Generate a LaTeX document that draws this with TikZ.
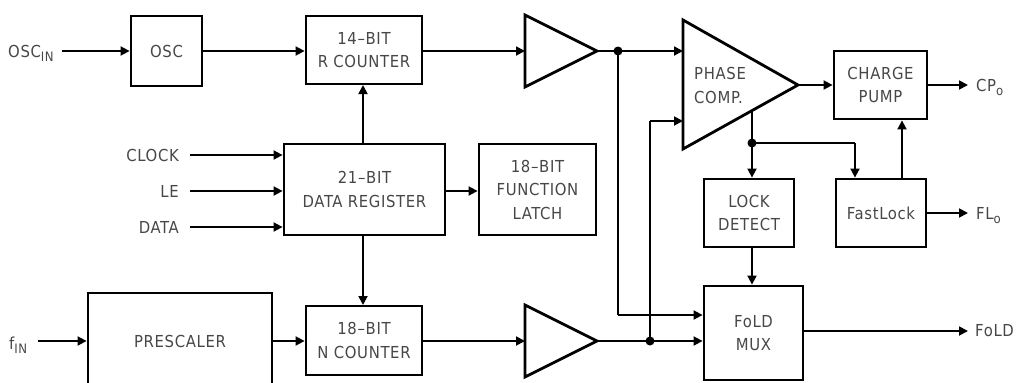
\documentclass[tikz,border=0pt]{standalone}
\usepackage{fontspec}
\setmainfont[LetterSpace=4]{DejaVu Sans Condensed}
\usetikzlibrary{arrows.meta}
\newcommand{\lowsub}[1]{\raisebox{-0.5ex}{\fontsize{13}{13}\selectfont #1}}
\begin{document}
\begin{tikzpicture}[x=1pt,y=-1pt,
  box/.style={draw, line width=2.8pt, inner sep=0pt, align=center,
    font=\fontsize{16.5}{23.5}\selectfont, text=black!72},
  wire/.style={line width=1.8pt},
  arr/.style={wire, -{Triangle[length=9pt,width=9pt]}},
  tri/.style={line width=2.8pt, line join=miter},
  lbl/.style={font=\fontsize{16.5}{17}\selectfont, text=black!72, inner sep=0pt},
  jdot/.style={circle, fill, inner sep=0pt, minimum size=9pt}]
\useasboundingbox (0,0) rectangle (1018,383);
\clip (0,0) rectangle (1018,383);

% boxes
\node[box, minimum width=71pt, minimum height=70pt] (osc) at (166.5,51) {OSC};
\node[box, minimum width=116pt, minimum height=68pt] (rcnt) at (364,50) {14–BIT\\R COUNTER};
\node[box, minimum width=161pt, minimum height=91pt] (dreg) at (364.5,189.5) {21–BIT\\DATA REGISTER};
\node[box, minimum width=117pt, minimum height=91pt] (flatch) at (537.5,189.5) {18–BIT\\FUNCTION\\LATCH};
\node[box, minimum width=116pt, minimum height=69pt] (ncnt) at (364,340.5) {18–BIT\\N COUNTER};
\node[box, minimum width=184pt, minimum height=130pt] (pres) at (180,358) {};
\node[lbl] (prestext) at (180,341) {PRESCALER};
\node[box, minimum width=93pt, minimum height=68pt] (cpump) at (880.5,85) {CHARGE\\PUMP};
\node[box, minimum width=90pt, minimum height=68pt] (lock) at (749,213) {LOCK\\DETECT};
\node[box, minimum width=90pt, minimum height=68pt] (fast) at (881,213) {FastLock};
\node[box, minimum width=99pt, minimum height=94pt] (mux) at (753.5,333) {FoLD\\MUX};

% buffers and phase comparator
\draw[tri] (525,15) -- (525,87) -- (597,51) -- cycle;
\coordinate (b1in) at (525,51);
\coordinate (b1out) at (597,51);
\draw[tri] (525,305) -- (525,377) -- (597,341) -- cycle;
\coordinate (b2in) at (525,341);
\coordinate (b2out) at (597,341);
\draw[tri] (683,20) -- (683,149) -- (798,85) -- cycle;
\coordinate (pcin1) at (683,51);
\coordinate (pcin2) at (683,121);
\coordinate (pcout) at (798,85);
\coordinate (pcbot) at (752,111);
\node[lbl, anchor=west, align=left, font=\fontsize{16.5}{24}\selectfont] (pctext) at (694,85) {PHASE\\COMP.};

% junctions
\node[jdot] (j1) at (618,51) {};
\node[jdot] (j2) at (650,341) {};
\node[jdot] (j3) at (752,143) {};
\coordinate (c1) at (618,315);
\coordinate (c2) at (650,121);
\coordinate (c3) at (855,143);

% input labels
\node[lbl, anchor=base west] (oscin) at (8,57) {OSC\lowsub{IN}};
\node[lbl, anchor=base west] (fin) at (9,349) {f\lowsub{IN}};
\node[lbl, anchor=east] (clk) at (179,155) {CLOCK};
\node[lbl, anchor=east] (le) at (179,191) {LE};
\node[lbl, anchor=east] (data) at (179,227) {DATA};
\node[lbl, anchor=base west] (cpo) at (976,91) {CP\lowsub{o}};
\node[lbl, anchor=base west] (flo) at (976,219) {FL\lowsub{o}};
\node[lbl, anchor=west] (fold) at (975,331) {FoLD};

% connectors
\draw[arr] (62,51) -- (osc.west);
\draw[arr] (osc.east) -- (rcnt.west |- osc.east);
\draw[arr] (rcnt.east |- b1in) -- (b1in);
\draw[wire] (b1out) -- (j1.center);
\draw[arr] (j1.center) -- (pcin1);
\draw[wire] (j1.center) -- (c1);
\draw[arr] (c1) -- (mux.west |- c1);
\draw[arr] (pcout) -- (cpump.west);
\draw[arr] (cpump.east) -- (968,85);

\draw[arr] (190,155) -- (dreg.west |- 0,155);
\draw[arr] (190,191) -- (dreg.west |- 0,191);
\draw[arr] (190,227) -- (dreg.west |- 0,227);
\draw[arr] (363,143) -- (363,85);
\draw[arr] (363,236) -- (363,305);
\draw[arr] (dreg.east |- 0,191) -- (flatch.west |- 0,191);

\draw[arr] (38,341) -- (pres.west |- 0,341);
\draw[arr] (pres.east |- 0,341) -- (ncnt.west |- 0,341);
\draw[arr] (ncnt.east |- b2in) -- (b2in);
\draw[wire] (b2out) -- (j2.center);
\draw[arr] (j2.center) -- (mux.west |- j2.center);
\draw[wire] (j2.center) -- (c2);
\draw[arr] (c2) -- (pcin2);

\draw[wire] (pcbot) -- (j3.center);
\draw[arr] (j3.center) -- (lock.north -| j3);
\draw[wire] (j3.center) -- (c3);
\draw[arr] (c3) -- (fast.north -| c3);
\draw[arr] (fast.north -| 902,0) -- (cpump.south -| 902,0);
\draw[arr] (fast.east) -- (968,213);
\draw[arr] (lock.south -| 752,0) -- (mux.north -| 752,0);
\draw[arr] (mux.east |- 0,331) -- (968,331);
\end{tikzpicture}
\end{document}
